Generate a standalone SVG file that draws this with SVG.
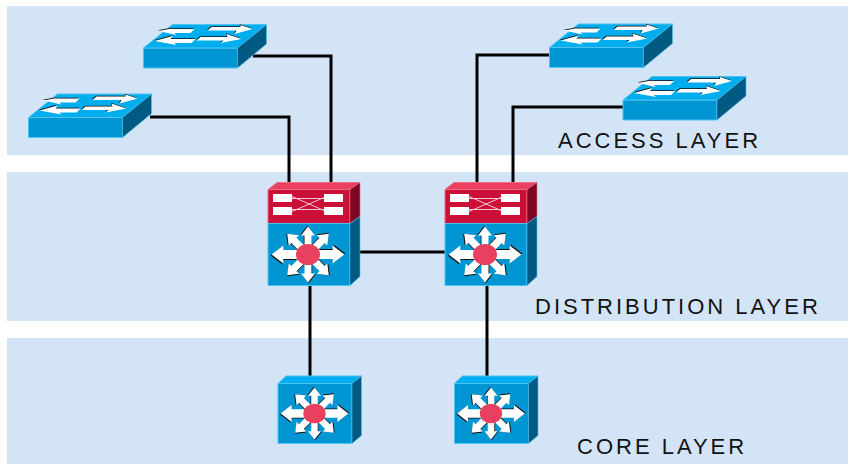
<svg xmlns="http://www.w3.org/2000/svg" xmlns:xlink="http://www.w3.org/1999/xlink" width="851" height="464" viewBox="0 0 851 464">
<style>
.band{fill:#d3e4f7}
.lbl{font-family:"Liberation Sans",Arial,sans-serif;font-size:22px;letter-spacing:3px;fill:#111}
.wire{fill:none;stroke:#000;stroke-width:3}
.front{fill:#0095d3;stroke:#4fc3f0;stroke-width:1}
.top{fill:#00aeef;stroke:#4fc3f0;stroke-width:1}
.side{fill:#005a82;stroke:#4fc3f0;stroke-width:.6}
.rf{fill:#cb0f36;stroke:#ee6a85;stroke-width:1}
.rt{fill:#e9405f;stroke:#ee6a85;stroke-width:1}
.rs{fill:#7c0722;stroke:#ee6a85;stroke-width:.6}
.w{fill:#fff}
.k{fill:#111}
.hub{fill:#e9405f}
</style>
<defs>
<g id="arrows2">
<path id="sa" d="M68-21H97V-23L109-19 91-14 93-17.5H64ZM58-16H29L31-19 17-15 37-10 34-12.5H54ZM57-11H84L81-14 98-9 77-5 80-7.500H53ZM25-12 6-5 24-2 31-5H52L55-8H31L34-12Z"/>
</g>
<g id="sw">
<polygon class="front" points="0,0 94,0 94,20 0,20"/>
<polygon class="top" points="0,0 29,-23.500 123,-23.500 94,0"/>
<polygon class="side" points="94,0 123,-23.500 123,-4 94,20"/>
<path class="k" transform="translate(-.6,-.8)" d="M68-21H97V-23L109-19 91-14 93-17.500H64ZM25-19H51L47-15H31L33-13 15-17 36-21ZM11-7 29-12 27-9H52L48-5H31L33-3ZM57-11H84L83-14 98-9 77-5 80-7.500H53Z"/>
<path class="w" d="M68-21H97V-23L109-19 91-14 93-17.500H64ZM25-19H51L47-15H31L33-13 15-17 36-21ZM11-7 29-12 27-9H52L48-5H31L33-3ZM57-11H84L83-14 98-9 77-5 80-7.500H53Z"/>
</g>
<g id="star">
<g id="ar">
<polygon class="k" transform="translate(-.7,-.7)" points="-3.500,-8 -3.500,-19 -7,-19 0,-28 7,-19 3.500,-19 3.500,-8"/>
<polygon class="w" points="-3.500,-8 -3.500,-19 -7,-19 0,-28 7,-19 3.500,-19 3.500,-8"/>
</g>
<use href="#ar" transform="rotate(45) scale(1.05)"/>
<use href="#ar" transform="rotate(90) scale(1.3,1.3)"/>
<use href="#ar" transform="rotate(135) scale(1.05)"/>
<use href="#ar" transform="rotate(180)"/>
<use href="#ar" transform="rotate(225) scale(1.05)"/>
<use href="#ar" transform="rotate(270) scale(1.3,1.3)"/>
<use href="#ar" transform="rotate(315) scale(1.05)"/>
<ellipse class="hub" rx="12" ry="10.500"/>
</g>
<g id="ml">
<polygon class="rf" points="0,0 82,0 82,34 0,34"/>
<polygon class="rt" points="0,0 9,-7 92,-7 82,0"/>
<polygon class="rs" points="82,0 92,-7 92,27 82,34"/>
<polygon class="front" points="0,34 82,34 82,96 0,96"/>
<polygon class="side" points="82,34 92,27 92,87 82,96"/>
<rect class="w" x="5" y="4.500" width="19" height="8"/>
<rect class="w" x="5" y="17.500" width="19" height="8"/>
<rect class="w" x="56" y="4.500" width="19" height="8"/>
<rect class="w" x="56" y="17.500" width="19" height="8"/>
<path d="M24 7 56 21M24 22 56 8M24 9 56 9M24 20 56 20" stroke="#f4c6cf" stroke-width="1" fill="none"/>
<use href="#star" transform="translate(40,65)"/>
</g>
<g id="l3">
<polygon class="front" points="0,0 74,0 74,60 0,60"/>
<polygon class="top" points="0,0 8,-7.500 83.500,-7.500 74,0"/>
<polygon class="side" points="74,0 83.500,-7.500 83.500,52 74,60"/>
<use href="#star" transform="translate(36.500,30) scale(.93)"/>
</g>
</defs>
<rect width="851" height="464" fill="#fff"/>
<rect class="band" x="7" y="6" width="841" height="149"/>
<rect class="band" x="7" y="172" width="841" height="149"/>
<rect class="band" x="7" y="338" width="841" height="126"/>
<g id="connectors">
<path class="wire" d="M150 117H289V182"/>
<path class="wire" d="M253 56H331V182"/>
<path class="wire" d="M550 55H477V182"/>
<path class="wire" d="M623 107H513V182"/>
<path class="wire" d="M360 252H445"/>
<path class="wire" d="M310 285V376"/>
<path class="wire" d="M487 285V376"/>
</g>
<g id="switch-a1"><use href="#sw" x="143.500" y="48"/></g>
<g id="switch-a2"><use href="#sw" x="28.500" y="117.500"/></g>
<g id="switch-a3"><use href="#sw" x="549.500" y="47.500"/></g>
<g id="switch-a4"><use href="#sw" x="623" y="100"/></g>
<g id="dist-1"><use href="#ml" x="268" y="189.500"/></g>
<g id="dist-2"><use href="#ml" x="445" y="189.500"/></g>
<g id="core-1"><use href="#l3" x="278" y="383.500"/></g>
<g id="core-2"><use href="#l3" x="454.500" y="383.500"/></g>
<text class="lbl" x="558" y="148">ACCESS LAYER</text>
<text class="lbl" x="535" y="314">DISTRIBUTION LAYER</text>
<text class="lbl" x="577" y="454">CORE LAYER</text>
</svg>
